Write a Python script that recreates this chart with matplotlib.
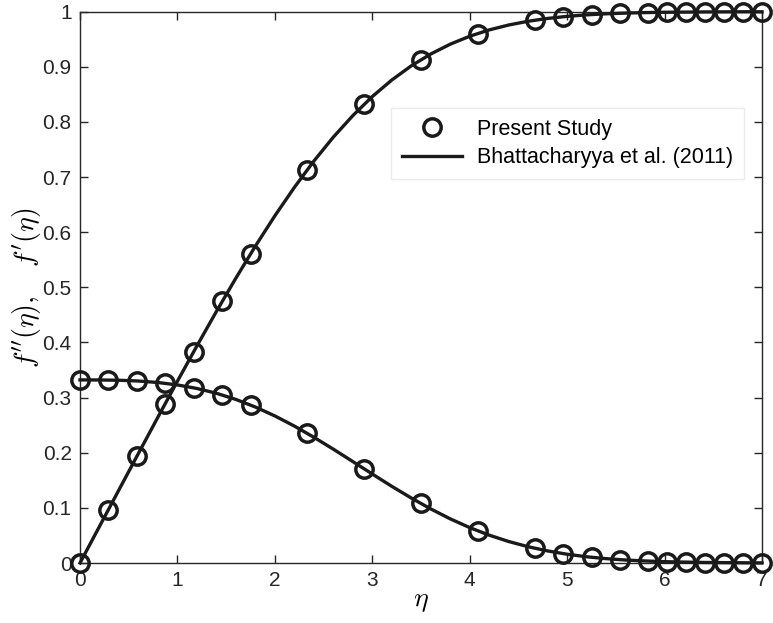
import numpy as np
import matplotlib
matplotlib.use('Agg')
import matplotlib.pyplot as plt

plt.rcParams['font.family'] = ['Liberation Sans', 'DejaVu Sans']
plt.rcParams['mathtext.fontset'] = 'cm'

# Present study (markers)
eta_pts = [0, 0.2917, 0.5833, 0.875, 1.1667, 1.4583, 1.75, 2.3333, 2.9167, 3.5,
           4.0833, 4.6667, 4.9583, 5.25, 5.5417, 5.8333, 6.0278, 6.2222, 6.4167,
           6.6111, 6.8056, 7.0]
fp_pts = [0, 0.0968, 0.1934, 0.2892, 0.3834, 0.4744, 0.5604, 0.7137, 0.8328, 0.9132,
          0.9601, 0.9847, 0.9909, 0.9948, 0.9971, 0.9984, 0.9990, 0.9994, 0.9996,
          0.9998, 0.9999, 0.9999]
fpp_pts = [0.3321, 0.3318, 0.3302, 0.3259, 0.3178, 0.3051, 0.2865, 0.2350, 0.1707,
           0.1081, 0.0583, 0.0269, 0.0170, 0.0104, 0.0061, 0.0034, 0.0023, 0.0015,
           0.0009, 0.0006, 0.0004, 0.0002]

# Bhattacharyya et al. (2011) (lines)
eta_ref = [0, 0.2, 0.4, 0.6, 0.8, 1.0, 1.2, 1.4, 1.6, 1.8, 2.0, 2.2, 2.4, 2.6, 2.8,
           3.0, 3.2, 3.4, 3.6, 3.8, 4.0, 4.2, 4.4, 4.6, 4.8, 5.0, 5.2, 5.4, 5.6,
           5.8, 6.0, 6.4, 6.8, 7.0]
fp_ref = [0, 0.0664, 0.1328, 0.1989, 0.2647, 0.3298, 0.3938, 0.4563, 0.5168, 0.5748,
          0.6298, 0.6813, 0.7290, 0.7725, 0.8115, 0.8461, 0.8761, 0.9018, 0.9233,
          0.9411, 0.9555, 0.9670, 0.9759, 0.9827, 0.9878, 0.9916, 0.9943, 0.9962,
          0.9975, 0.9984, 0.9990, 0.9996, 0.9999, 0.9999]
fpp_ref = [0.3321, 0.3320, 0.3315, 0.3301, 0.3274, 0.3230, 0.3166, 0.3079, 0.2967,
           0.2829, 0.2668, 0.2484, 0.2281, 0.2065, 0.1840, 0.1614, 0.1391, 0.1179,
           0.0981, 0.0801, 0.0642, 0.0505, 0.0390, 0.0295, 0.0219, 0.0159, 0.0113,
           0.0079, 0.0054, 0.0037, 0.0024, 0.0010, 0.0004, 0.0002]

fig = plt.figure(figsize=(7.73, 6.23), dpi=100)
ax = fig.add_axes([0.1035, 0.0963, 0.8823, 0.8849])

mk = dict(marker='o', markersize=12.5, markerfacecolor='none', markeredgecolor='#1a1a1a',
          markeredgewidth=2.5, linestyle='none', clip_on=False, zorder=4)
ax.plot(eta_pts, fp_pts, label='Present Study', **mk)
ax.plot(eta_pts, fpp_pts, **mk)
ax.plot(eta_ref, fp_ref, color='#1a1a1a', lw=2.4, label='Bhattacharyya et al. (2011)',
        clip_on=False, zorder=3)
ax.plot(eta_ref, fpp_ref, color='#1a1a1a', lw=2.4, clip_on=False, zorder=3)

ax.set_xlim(0, 7)
ax.set_ylim(0, 1)
ax.set_xticks(range(8))
ax.set_yticks(np.arange(0, 1.01, 0.1))
ax.set_yticklabels(['0', '0.1', '0.2', '0.3', '0.4', '0.5', '0.6', '0.7', '0.8', '0.9', '1'])
ax.tick_params(direction='in', top=True, right=True, labelsize=15, length=6, width=1,
               colors='#262626', pad=6)
for s in ax.spines.values():
    s.set_linewidth(1.0)
    s.set_color('#262626')

ax.set_xlabel(r'$\eta$', fontsize=20, labelpad=-2)
ax.set_ylabel(r"$f''(\eta),\quad f'(\eta)$", fontsize=20, labelpad=0)

leg = ax.legend(loc='upper right', bbox_to_anchor=(0.9736, 0.825), borderaxespad=0,
                fontsize=15.5, frameon=True, fancybox=False, handlelength=2.8,
                borderpad=0.5, labelspacing=0.35, handletextpad=0.7)
leg.get_frame().set_edgecolor('#e6e6e6')
leg.get_frame().set_linewidth(1.0)
leg.set_zorder(5)

fig.savefig('out.png', dpi=100)
